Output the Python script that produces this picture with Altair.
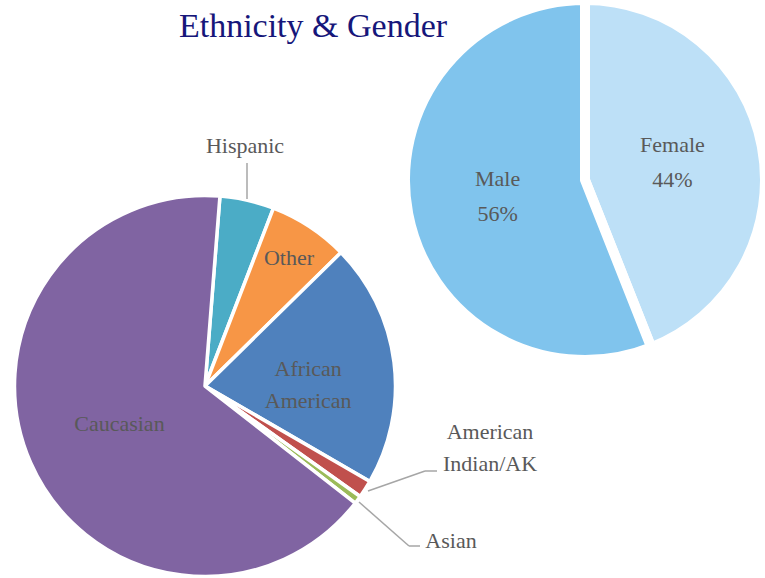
import math
import altair as alt
import pandas as pd

# ---- data ----
eth_cats = ["Hispanic", "Other", "African American", "American Indian/AK", "Asian", "Caucasian"]
eth_vals = [4.6, 6.8, 20.7, 1.5, 0.7, 65.7]
eth_colors = ["#4BACC6", "#F79646", "#4F81BD", "#C0504D", "#9BBB59", "#8064A2"]

gen_cats = ["Female", "Male"]
gen_vals = [44, 56]
gen_colors = ["#BDE0F7", "#80C4ED"]

title_text = "Ethnicity & Gender"

FONT = "Liberation Serif"
LABEL_COLOR = "#595959"
LEADER_COLOR = "#A6A6A6"
FS = 22

eth_df = pd.DataFrame({"cat": eth_cats, "value": eth_vals, "idx": list(range(len(eth_cats)))})
gen_df = pd.DataFrame({"cat": gen_cats, "value": gen_vals, "idx": list(range(len(gen_cats)))})

# ---- ethnicity pie ----
CX1, CY1 = 205, 386
start = math.radians(4.5)
eth_base = alt.Chart(eth_df).encode(
    theta=alt.Theta("value:Q", stack=True, scale=alt.Scale(range=[start, start + 2 * math.pi])),
    order=alt.Order("idx:Q", sort="ascending"),
    x=alt.value(CX1),
    y=alt.value(CY1),
)
eth_arc = eth_base.mark_arc(
    outerRadius=190.5, stroke="white", strokeWidth=3.5, strokeJoin="round"
).encode(
    color=alt.Color("cat:N", scale=alt.Scale(domain=eth_cats, range=eth_colors), legend=None)
)


def eth_label(name, radius, dy=0):
    return eth_base.transform_calculate(
        lab=f"datum.cat == '{name}' ? datum.cat : ''"
    ).mark_text(
        radius=radius, dy=dy, font=FONT, fontSize=FS, color=LABEL_COLOR,
        lineBreak=" ", lineHeight=32, baseline="middle", align="center",
    ).encode(text="lab:N", detail="cat:N")


eth_layer = alt.layer(
    eth_arc,
    eth_label("Caucasian", 93.5),
    eth_label("Other", 153),
    eth_label("African American", 104, -4),
)

# ---- gender pie ----
CX2, CY2 = 585, 180
gen_base = alt.Chart(gen_df).encode(
    theta=alt.Theta("value:Q", stack=True, scale=alt.Scale(range=[0, 2 * math.pi])),
    order=alt.Order("idx:Q", sort="ascending"),
    x=alt.value(CX2),
    y=alt.value(CY2),
)
gen_arc = gen_base.mark_arc(
    outerRadius=180, stroke="white", strokeWidth=10, strokeJoin="round"
).encode(
    color=alt.Color("cat:N", scale=alt.Scale(domain=gen_cats, range=gen_colors), legend=None)
)
gen_text = gen_base.transform_calculate(
    lab="datum.cat + '\\n' + datum.value + '%'"
).mark_text(
    radius=89, dy=-18, font=FONT, fontSize=FS, color=LABEL_COLOR,
    lineBreak="\n", lineHeight=35, baseline="middle", align="center",
).encode(text="lab:N", detail="cat:N")

gen_layer = alt.layer(gen_arc, gen_text)

# ---- annotations ----
one = alt.Data(values=[{}])


def rule(x1, y1, x2, y2):
    return alt.Chart(one).mark_rule(color=LEADER_COLOR, strokeWidth=1.5).encode(
        x=alt.value(x1), y=alt.value(y1), x2=alt.value(x2), y2=alt.value(y2)
    )


def label(txt, x, y):
    return alt.Chart(one).mark_text(
        font=FONT, fontSize=FS, color=LABEL_COLOR, baseline="middle", align="center",
        lineBreak="\n", lineHeight=32,
    ).encode(x=alt.value(x), y=alt.value(y), text=alt.value(txt))


title = alt.Chart(one).mark_text(
    font=FONT, fontSize=34, color="#16167A", baseline="alphabetic", align="center"
).encode(x=alt.value(313), y=alt.value(37), text=alt.value(title_text))

annotations = [
    rule(247, 163, 247, 199),
    rule(368, 491, 425, 471),
    rule(425, 471, 437, 471),
    rule(359, 502, 409, 546),
    rule(409, 546, 420, 546),
    label("Hispanic", 245, 146),
    label("American\nIndian/AK", 490, 432),
    label("Asian", 451, 541),
    title,
]

chart = alt.layer(eth_layer, gen_layer, *annotations).resolve_scale(
    theta="independent", color="independent"
).properties(
    width=765, height=578, padding=0, autosize=alt.AutoSizeParams(type="none"),
    background="white",
).configure_view(stroke=None)

chart.save("out.html", embed_options={"renderer": "svg", "actions": False})
